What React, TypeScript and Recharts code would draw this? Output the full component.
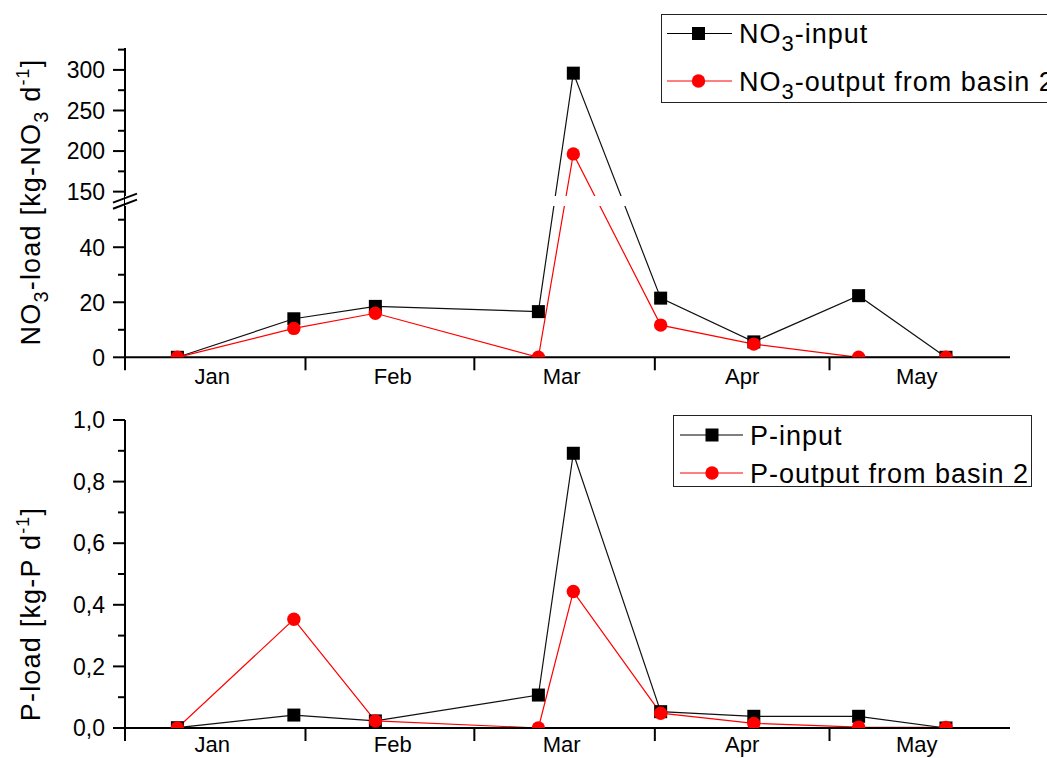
import React from 'react';
import {
  LineChart,
  Line,
  XAxis,
  YAxis,
  Legend,
  ReferenceArea,
  ReferenceLine,
} from 'recharts';

const FONT = '"Liberation Sans", Arial, Helvetica, sans-serif';

// Sampling dates as day number counted from 1 January (leap year)
const sampleDays = [9, 29, 43, 71, 77, 92, 108, 126, 141];

// NO3 loads [kg-NO3 d-1]
const no3Input = [0, 14, 18.5, 16.6, 296, 21.5, 5.6, 22.4, 0];
const no3Output = [0, 10.5, 16, 0, 196.5, 11.7, 4.8, 0, 0];

// P loads [kg-P d-1]
const pInput = [0.001, 0.042, 0.023, 0.107, 0.892, 0.053, 0.038, 0.038, 0];
const pOutput = [0, 0.353, 0.023, 0, 0.443, 0.048, 0.015, 0.003, 0.002];

// Month boundaries (ticks) and label positions (16th of each month)
const monthStarts = [0, 31, 60, 91, 121];
const monthLabelDays = [15, 46, 75, 106, 136];
const monthNames = ['Jan', 'Feb', 'Mar', 'Apr', 'May'];
const DAY_MAX = 152;

// NO3 axis ticks, lower and upper part of the broken axis
const no3LowerTicks = [0, 10, 20, 30, 40, 50];
const no3UpperTicks = [150, 175, 200, 225, 250, 275, 300, 325];
const no3MajorTicks = [0, 20, 40, 150, 200, 250, 300];

const pTicks = [0, 0.1, 0.2, 0.3, 0.4, 0.5, 0.6, 0.7, 0.8, 0.9, 1.0];
const pMajorTicks = [0, 0.2, 0.4, 0.6, 0.8, 1.0];

// Broken axis: 0..55 linear, above the break a compressed scale starting at 150
const BREAK_LOW = 55;
const UPPER_BASE = 150;
const UPPER_BASE_POS = 60.2;
const UPPER_SCALE = 0.2949;
const toBroken = (v: number) =>
  v <= BREAK_LOW ? v : UPPER_BASE_POS + (v - UPPER_BASE) * UPPER_SCALE;
const TOP_MAX = toBroken(327);

const no3Data = sampleDays.map((day, i) => ({
  day,
  input: toBroken(no3Input[i]),
  output: toBroken(no3Output[i]),
}));

const pData = sampleDays.map((day, i) => ({
  day,
  input: pInput[i],
  output: pOutput[i],
}));

type TickInfo = { pos: number; label: string | null };

const no3TickInfo: TickInfo[] = [...no3LowerTicks, ...no3UpperTicks].map((v) => ({
  pos: toBroken(v),
  label: no3MajorTicks.includes(v) ? String(v) : null,
}));

const pTickInfo: TickInfo[] = pTicks.map((v) => ({
  pos: v,
  label: pMajorTicks.some((m) => Math.abs(m - v) < 1e-9) ? v.toFixed(1).replace('.', ',') : null,
}));

function makeYTick(info: TickInfo[]) {
  return (props: any) => {
    const { x, y, payload } = props;
    const t = info.find((k) => Math.abs(k.pos - payload.value) < 1e-6);
    if (!t) return <g />;
    const len = t.label ? 12 : 7;
    return (
      <g>
        <line x1={x - len} x2={x} y1={y} y2={y} stroke="#000" strokeWidth={2} />
        {t.label && (
          <text
            x={x - 20}
            y={y}
            dy="0.36em"
            textAnchor="end"
            fontSize={23}
            fontFamily={FONT}
            fill="#000"
          >
            {t.label}
          </text>
        )}
      </g>
    );
  };
}

// month boundary ticks plus month names between them
function makeDayTick(labelOffset: number) {
  return (props: any) => {
    const { x, y, payload } = props;
    const v = payload.value;
    if (monthStarts.includes(v)) {
      return <line x1={x} x2={x} y1={y} y2={y + 13} stroke="#000" strokeWidth={2} />;
    }
    const i = monthLabelDays.indexOf(v);
    return (
      <text
        x={x}
        y={y + labelOffset}
        textAnchor="middle"
        fontSize={22}
        fontFamily={FONT}
        fill="#000"
      >
        {monthNames[i]}
      </text>
    );
  };
}

const dayTicks = [...monthStarts, ...monthLabelDays].sort((a, b) => a - b);

const SquareDot = (props: any) => {
  const { cx, cy, index } = props;
  if (cx == null || cy == null) return <g key={`sq-${index}`} />;
  return <rect key={`sq-${index}`} x={cx - 6.5} y={cy - 6.5} width={13} height={13} fill="#000" />;
};

const circleDot = { r: 6.7, fill: '#ff0000', stroke: 'none' };

function YTitle({ cy, children }: { cy: number; children: React.ReactNode }) {
  return (
    <text
      x={39.5}
      y={cy}
      transform={`rotate(-90, 39.5, ${cy})`}
      textAnchor="middle"
      fontSize={27}
      letterSpacing={1.2}
      fontFamily={FONT}
      fill="#000"
    >
      {children}
    </text>
  );
}

function LegendMarker({ kind, x, y }: { kind: 'square' | 'circle'; x: number; y: number }) {
  return kind === 'square' ? (
    <rect x={x - 6.5} y={y - 6.5} width={13} height={13} fill="#000" />
  ) : (
    <circle cx={x} cy={y} r={6.7} fill="#ff0000" />
  );
}

function No3Legend() {
  return (
    <svg width={400} height={90} style={{ display: 'block' }}>
      <rect x={0.5} y={0.5} width={399} height={88} fill="#fff" stroke="#222" strokeWidth={1} />
      <line x1={6} x2={71} y1={19.5} y2={19.5} stroke="#000" strokeWidth={1} />
      <LegendMarker kind="square" x={37.5} y={19.5} />
      <text x={78} y={28.5} fontSize={27} letterSpacing={1} fontFamily={FONT} fill="#000">
        NO<tspan dy={8} fontSize={22}>3</tspan>
        <tspan dy={-8}>-input</tspan>
      </text>
      <line x1={6} x2={71} y1={67} y2={67} stroke="#ff0000" strokeWidth={1} />
      <LegendMarker kind="circle" x={37.5} y={67} />
      <text x={78} y={76.5} fontSize={27} letterSpacing={1} fontFamily={FONT} fill="#000">
        NO<tspan dy={8} fontSize={22}>3</tspan>
        <tspan dy={-8}>-output from basin 2</tspan>
      </text>
    </svg>
  );
}

function PLegend() {
  return (
    <svg width={359} height={72} style={{ display: 'block' }}>
      <rect x={0.5} y={0.5} width={358} height={71} fill="#fff" stroke="#222" strokeWidth={1} />
      <line x1={7} x2={70} y1={20} y2={20} stroke="#000" strokeWidth={1} />
      <LegendMarker kind="square" x={39} y={20} />
      <text x={77} y={29.5} fontSize={27} letterSpacing={1} fontFamily={FONT} fill="#000">
        P-input
      </text>
      <line x1={7} x2={70} y1={58} y2={58} stroke="#ff0000" strokeWidth={1} />
      <LegendMarker kind="circle" x={39} y={58} />
      <text x={77} y={67.5} fontSize={27} letterSpacing={1} fontFamily={FONT} fill="#000">
        P-output from basin 2
      </text>
    </svg>
  );
}

const axisLine = { stroke: '#000', strokeWidth: 2 };

export default function App() {
  return (
    <div
      style={{
        position: 'absolute',
        left: 0,
        top: 0,
        width: 1047,
        height: 758,
        overflow: 'hidden',
        background: '#fff',
      }}
    >
      {/* NO3 loads with broken y axis */}
      <div style={{ position: 'absolute', left: 0, top: 0 }}>
        <LineChart
          width={1047}
          height={758}
          data={no3Data}
          margin={{ top: 48, right: 37, bottom: 360, left: 60 }}
        >
          <XAxis
            dataKey="day"
            type="number"
            domain={[0, DAY_MAX]}
            ticks={dayTicks}
            interval={0}
            height={40.7}
            tickSize={0}
            tickMargin={0}
            tickLine={false}
            axisLine={axisLine}
            tick={makeDayTick(27)}
          />
          <YAxis
            type="number"
            domain={[0, TOP_MAX]}
            ticks={no3TickInfo.map((t) => t.pos)}
            interval={0}
            width={65}
            allowDataOverflow
            tickSize={0}
            tickMargin={0}
            tickLine={false}
            axisLine={axisLine}
            tick={makeYTick(no3TickInfo)}
            label={{
              content: () => (
                <YTitle cy={202}>
                  NO<tspan dy={8} fontSize={20}>3</tspan>
                  <tspan dy={-8}>-load [kg-NO</tspan>
                  <tspan dy={8} fontSize={20}>3</tspan>
                  <tspan dy={-8}> d</tspan>
                  <tspan dy={-11} fontSize={18}>-1</tspan>
                  <tspan dy={11}>]</tspan>
                </YTitle>
              ),
            }}
          />
          <Line
            dataKey="input"
            stroke="#111"
            strokeWidth={1.2}
            dot={SquareDot}
            activeDot={false}
            isAnimationActive={false}
          />
          <Line
            dataKey="output"
            stroke="#ff0000"
            strokeWidth={1.2}
            dot={circleDot}
            activeDot={false}
            isAnimationActive={false}
          />
          {/* white band where the axis is broken */}
          <ReferenceArea
            x1={0}
            x2={DAY_MAX}
            y1={55}
            y2={58.6}
            fill="#fff"
            fillOpacity={1}
            stroke="none"
            zIndex={1000}
          />
          <ReferenceLine
            segment={[
              { x: -2.06, y: 54 },
              { x: 2.06, y: 57.3 },
            ]}
            stroke="#000"
            strokeWidth={2}
            ifOverflow="visible"
            zIndex={1001}
          />
          <ReferenceLine
            segment={[
              { x: -2.06, y: 56.2 },
              { x: 2.06, y: 59.5 },
            ]}
            stroke="#000"
            strokeWidth={2}
            ifOverflow="visible"
            zIndex={1001}
          />
          <Legend
            layout="vertical"
            align="center"
            verticalAlign="middle"
            width={400}
            height={90}
            wrapperStyle={{ left: 661, top: 14 }}
            content={() => <No3Legend />}
          />
        </LineChart>
      </div>

      {/* P loads */}
      <div style={{ position: 'absolute', left: 0, top: 0 }}>
        <LineChart
          width={1047}
          height={758}
          data={pData}
          margin={{ top: 420, right: 37, bottom: 0, left: 60 }}
        >
          <XAxis
            dataKey="day"
            type="number"
            domain={[0, DAY_MAX]}
            ticks={dayTicks}
            interval={0}
            height={30}
            tickSize={0}
            tickMargin={0}
            tickLine={false}
            axisLine={axisLine}
            tick={makeDayTick(24)}
          />
          <YAxis
            type="number"
            domain={[0, 1]}
            ticks={pTicks}
            interval={0}
            width={65}
            allowDataOverflow
            tickSize={0}
            tickMargin={0}
            tickLine={false}
            axisLine={axisLine}
            tick={makeYTick(pTickInfo)}
            label={{
              content: () => (
                <YTitle cy={614}>
                  P-load [kg-P d<tspan dy={-11} fontSize={18}>-1</tspan>
                  <tspan dy={11}>]</tspan>
                </YTitle>
              ),
            }}
          />
          <Line
            dataKey="input"
            stroke="#111"
            strokeWidth={1.2}
            dot={SquareDot}
            activeDot={false}
            isAnimationActive={false}
          />
          <Line
            dataKey="output"
            stroke="#ff0000"
            strokeWidth={1.2}
            dot={circleDot}
            activeDot={false}
            isAnimationActive={false}
          />
          <Legend
            layout="vertical"
            align="center"
            verticalAlign="middle"
            width={359}
            height={72}
            wrapperStyle={{ left: 673, top: 415 }}
            content={() => <PLegend />}
          />
        </LineChart>
      </div>
    </div>
  );
}
